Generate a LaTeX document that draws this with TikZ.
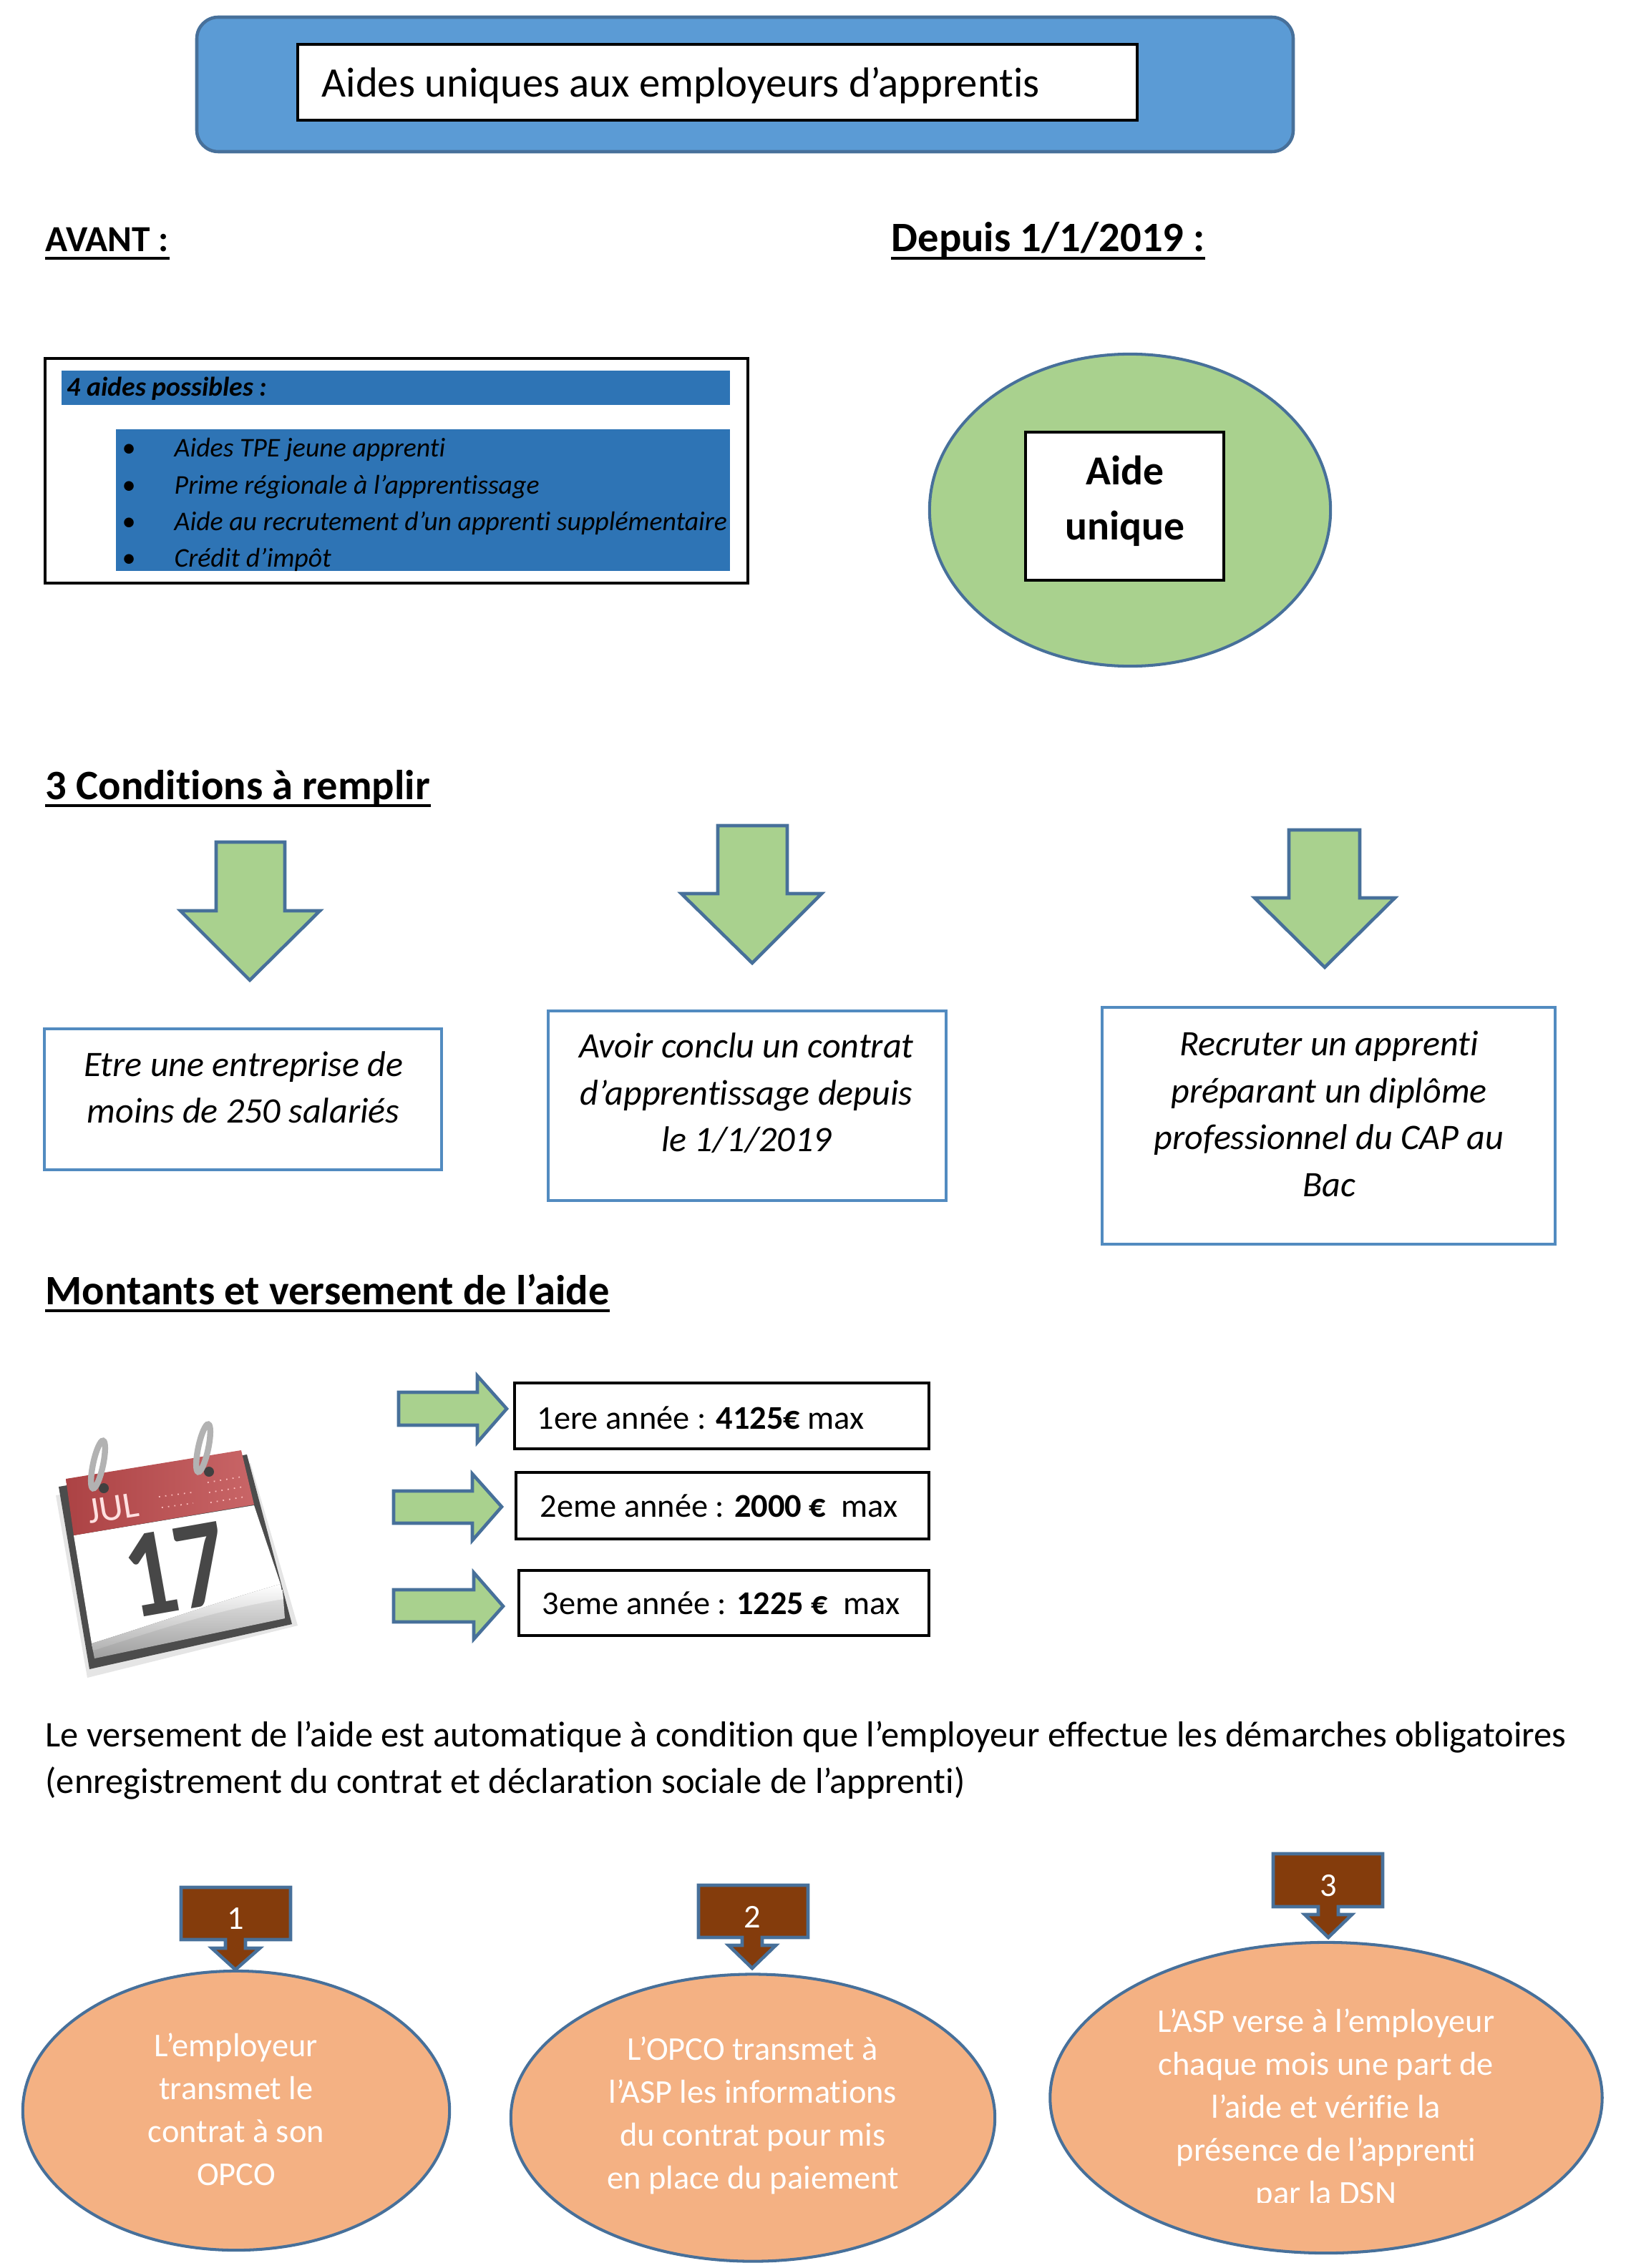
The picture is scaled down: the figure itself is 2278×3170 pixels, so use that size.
\documentclass[tikz,border=0pt]{standalone}
\usepackage{fontspec}
\usepackage{tikz}
\usetikzlibrary{shapes.geometric}
\setmainfont[Ligatures={TeX,NoCommon}]{Carlito}

\definecolor{headblue}{HTML}{5B9BD5}
\definecolor{edgeblue}{HTML}{47709A}
\definecolor{barblue}{HTML}{2E74B5}
\definecolor{leafgreen}{HTML}{A9D18E}
\definecolor{peach}{HTML}{F4B183}
\definecolor{rust}{HTML}{843C0C}
\definecolor{calred}{HTML}{BF4A4C}

\tikzset{
  blackbox/.style={draw=black,line width=1pt,fill=white},
  condbox/.style={draw=headblue!90!black,line width=1.28pt,fill=white},
  greenarrow/.style={draw=edgeblue,line width=1.3pt,fill=leafgreen,line join=miter},
  rustarrow/.style={draw=edgeblue,line width=1.3pt,fill=rust,line join=miter},
  peachblob/.style={ellipse,draw=edgeblue,line width=1.15pt,fill=peach,inner sep=0pt},
  ruleline/.style={line width=1.25pt,black},
  basetext/.style={anchor=base west,inner sep=0pt},
  amounttext/.style={basetext,font=\fontsize{13.2}{18.5}\selectfont},
  paratext/.style={basetext,font=\fontsize{14.35}{18.5}\selectfont},
  bigbold/.style={basetext,font=\fontsize{16.65}{18.5}\selectfont\bfseries},
  listtext/.style={basetext,font=\fontsize{10.75}{13}\selectfont\itshape},
  dottext/.style={basetext,font=\fontsize{10.9}{13}\selectfont},
  condtext/.style={font=\fontsize{14.25}{18.6}\selectfont\itshape,align=center},
  blobtext/.style={font=\fontsize{13.2}{17.1}\selectfont,text=white,align=center},
}

\begin{document}
\begin{tikzpicture}[x=0.01cm,y=-0.01cm]
\useasboundingbox (0,0) rectangle (2278,3170);

% title
\draw[draw=edgeblue,line width=1.3pt,fill=headblue,rounded corners=0.3cm] (275,24) rectangle (1807,212);
\draw[blackbox] (416,62) rectangle (1589,168);
\node[basetext,font=\fontsize{16.7}{18}\selectfont] (title) at (449,136) {Aides uniques aux employeurs d’apprentis};

% before / since
\node[basetext,font=\fontsize{14.6}{18.5}\selectfont\bfseries] (avant) at (63,352) {AVANT :};
\draw[ruleline] ([yshift=-2.5pt]avant.base west) -- ([yshift=-2.5pt]avant.base east);
\node[bigbold] (depuis) at (1245,352) {Depuis 1/1/2019 :};
\draw[ruleline] ([yshift=-2.5pt]depuis.base west) -- ([yshift=-2.5pt]depuis.base east);

\draw[blackbox] (63,501) rectangle (1045,815);
\fill[barblue] (86,518) rectangle (1020,566);
\fill[barblue] (162,600) rectangle (1020,798);
\node[listtext,font=\fontsize{10.75}{13}\selectfont\itshape\bfseries] (possibles) at (93,553) {4 aides possibles :};
\node[dottext] (dota) at (170,638) {•};
\node[dottext] (dotb) at (170,690) {•};
\node[dottext] (dotc) at (170,741) {•};
\node[dottext] (dotd) at (170,792) {•};
\node[listtext] (lista) at (243,638) {Aides TPE jeune apprenti};
\node[listtext] (listb) at (243,690) {Prime régionale à l’apprentissage};
\node[listtext] (listc) at (243,741) {Aide au recrutement d’un apprenti supplémentaire};
\node[listtext] (listd) at (243,792) {Crédit d’impôt};

\node[ellipse,draw=edgeblue,line width=1.15pt,fill=leafgreen,inner sep=0pt,minimum width=5.6cm,minimum height=4.36cm] (greenblob) at (1579,713) {};
\draw[blackbox] (1433,604) rectangle (1710,811);
\node[align=center,font=\fontsize{16.4}{22}\selectfont\bfseries] (unique) at (1572,700) {Aide\\unique};

% conditions
\node[bigbold] (conditions) at (63,1117) {3 Conditions à remplir};
\draw[ruleline] ([yshift=-2.5pt]conditions.base west) -- ([yshift=-2.5pt]conditions.base east);

\draw[greenarrow] (302,1177) -- (398,1177) -- (398,1273) -- (447,1273) -- (349,1370) -- (252,1273) -- (302,1273) -- cycle;
\draw[greenarrow] (1003,1154) -- (1100,1154) -- (1100,1249) -- (1148,1249) -- (1051,1346) -- (952,1249) -- (1003,1249) -- cycle;
\draw[greenarrow] (1801,1160) -- (1900,1160) -- (1900,1255) -- (1949,1255) -- (1851,1352) -- (1753,1255) -- (1801,1255) -- cycle;

\draw[condbox] (62,1438) rectangle (617,1635);
\draw[condbox] (766,1413) rectangle (1322,1678);
\draw[condbox] (1540,1408) rectangle (2173,1739);
\node[condtext] (conda) at (340,1520) {Etre une entreprise de\\moins de 250 salariés};
\node[condtext] (condb) at (1043,1528) {Avoir conclu un contrat\\d’apprentissage depuis\\le 1/1/2019};
\node[condtext] (condc) at (1857,1557) {Recruter un apprenti\\préparant un diplôme\\professionnel du CAP au\\Bac};

% amounts
\node[bigbold] (montants) at (63,1823) {Montants et versement de l’aide};
\draw[ruleline] ([yshift=-2.5pt]montants.base west) -- ([yshift=-2.5pt]montants.base east);

\draw[greenarrow] (557,1946) -- (667,1946) -- (667,1923) -- (708,1969) -- (667,2016) -- (667,1992) -- (557,1992) -- cycle;
\draw[greenarrow] (550,2084) -- (660,2084) -- (660,2060) -- (701,2106) -- (660,2153) -- (660,2129) -- (550,2129) -- cycle;
\draw[greenarrow] (550,2222) -- (662,2222) -- (662,2198) -- (703,2245) -- (662,2291) -- (662,2267) -- (550,2267) -- cycle;

\draw[blackbox] (719,1933) rectangle (1298,2025);
\draw[blackbox] (721,2058) rectangle (1298,2151);
\draw[blackbox] (725,2195) rectangle (1298,2286);
\node[amounttext] (yeara) at (750,1997) {1ere année : \textbf{4125€} max};
\node[amounttext] (yearb) at (754,2120) {2eme année : \textbf{2000 €}\ \ max};
\node[amounttext] (yearc) at (757,2256) {3eme année : \textbf{1225 €}\ \ max};

% calendar
\fill[gray!20] (78,2090) -- (350,2045) -- (416,2272) -- (122,2345) -- cycle;
\fill[black!70] (82,2078) -- (345,2033) -- (408,2270) -- (125,2333) -- cycle;
\shade[top color=gray!20,bottom color=gray!75] (128,2297) -- (395,2222) -- (398,2262) -- (132,2318) -- cycle;
\fill[white] (103,2146) -- (355,2104) -- (392,2214) .. controls (300,2240) and (200,2275) .. (128,2297) -- cycle;
\shade[top color=white,bottom color=gray!60] (128,2297) .. controls (200,2275) and (300,2240) .. (392,2214) -- (396,2235) .. controls (300,2250) and (200,2285) .. (130,2307) -- cycle;
\shade[left color=calred!90!black,right color=calred!85!white] (92,2067) -- (337,2027) -- (355,2103) -- (103,2146) -- cycle;
\fill[black!75] (145,2080) circle (7);
\fill[black!75] (292,2057) circle (7);
\draw[gray!60,line width=2.4pt,rotate around={-12:(137,2047)}] (137,2047) ellipse (7 and 34);
\draw[gray!60,line width=2.4pt,rotate around={-12:(284,2024)}] (284,2024) ellipse (7 and 34);
\node[font=\fontsize{14.8}{15}\selectfont,text=red!12,rotate=9,inner sep=0pt] (calmonth) at (158,2108) {JUL};
\draw[red!25,line width=0.5pt,dotted] (222,2092) -- (268,2086);
\draw[red!25,line width=0.5pt,dotted] (226,2107) -- (270,2101);
\draw[red!25,line width=0.5pt,dotted] (290,2072) -- (338,2064);
\draw[red!25,line width=0.5pt,dotted] (292,2086) -- (340,2078);
\draw[red!25,line width=0.5pt,dotted] (294,2100) -- (342,2092);
\node[font=\fontsize{50}{50}\selectfont\bfseries,text=black!72,rotate=10,xscale=.8,inner sep=0pt] (calday) at (246,2194) {17};

% payment
\node[paratext] (versa) at (63,2441) {Le versement de l’aide est automatique à condition que l’employeur effectue les démarches obligatoires};
\node[paratext] (versb) at (63,2506) {(enregistrement du contrat et déclaration sociale de l’apprenti)};

\node[peachblob,minimum width=5.96cm,minimum height=3.9cm] (bloba) at (330,2950) {};
\node[peachblob,minimum width=6.76cm,minimum height=4.01cm] (blobb) at (1052,2960) {};
\node[peachblob,minimum width=7.71cm,minimum height=4.34cm] (blobc) at (1853,2932) {};

\draw[rustarrow] (253,2638) -- (406,2638) -- (406,2711) -- (343,2711) -- (343,2723) -- (363,2723) -- (329,2753) -- (296,2723) -- (315,2723) -- (315,2711) -- (253,2711) -- cycle;
\draw[rustarrow] (976,2635) -- (1129,2635) -- (1129,2708) -- (1065,2708) -- (1065,2719) -- (1084,2719) -- (1051,2751) -- (1018,2719) -- (1037,2719) -- (1037,2708) -- (976,2708) -- cycle;
\draw[rustarrow] (1779,2591) -- (1932,2591) -- (1932,2665) -- (1870,2665) -- (1870,2676) -- (1889,2676) -- (1856,2708) -- (1823,2676) -- (1842,2676) -- (1842,2665) -- (1779,2665) -- cycle;
\node[blobtext] (numa) at (329,2682) {1};
\node[blobtext] (numb) at (1051,2679) {2};
\node[blobtext] (numc) at (1856,2636) {3};

\node[blobtext] (texta) at (330,2948) {L’employeur\\transmet le\\contrat à son\\OPCO};
\node[blobtext] (textb) at (1052,2957) {L’OPCO transmet à\\l’ASP les informations\\du contrat pour mis\\en place du paiement};
\begin{scope}
\clip (1468,2713) rectangle (2240,3078);
\node[blobtext] (textc) at (1853,2948) {L’ASP verse à l’employeur\\chaque mois une part de\\l’aide et vérifie la\\présence de l’apprenti\\par la DSN};
\end{scope}
\end{tikzpicture}
\end{document}
